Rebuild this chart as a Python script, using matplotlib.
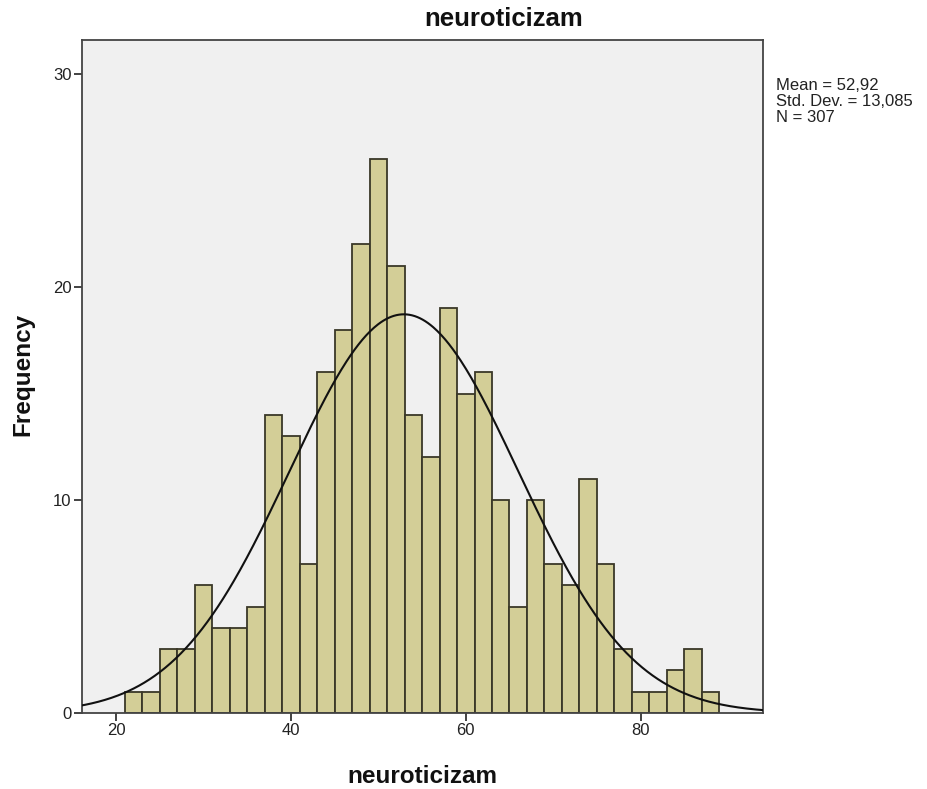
import numpy as np
import matplotlib
matplotlib.use("Agg")
import matplotlib.pyplot as plt

plt.rcParams['font.family'] = ['Liberation Sans', 'DejaVu Sans']

# Histogram data: bin edges (width 2) and counts
bin_edges = list(range(21, 91, 2))
counts = [1, 1, 3, 3, 6, 4, 4, 5, 14, 13, 7, 16, 18, 22, 26, 21,
          14, 12, 19, 15, 16, 10, 5, 10, 7, 6, 11, 7, 3, 1, 1, 2, 3, 1]
mean = 52.92
std = 13.085
n = 307
x_ticks = [20, 40, 60, 80]
y_ticks = [0, 10, 20, 30]
stats_lines = ['Mean = 52,92', 'Std. Dev. = 13,085', 'N = 307']

W, H = 927, 789
fig = plt.figure(figsize=(W / 100, H / 100), dpi=100)
ax = fig.add_axes([82 / W, 1 - 713 / H, (763 - 82) / W, (713 - 40) / H])
ax.set_facecolor('#F0F0F0')

left_edges = np.array(bin_edges[:-1])
widths = np.diff(bin_edges)
ax.bar(left_edges, counts, width=widths, align='edge', color='#D3CE97',
       edgecolor='#3A3828', linewidth=1.3, zorder=2)

xs = np.linspace(10, 100, 600)
binw = widths[0]
ys = n * binw / (std * np.sqrt(2 * np.pi)) * np.exp(-0.5 * ((xs - mean) / std) ** 2)
ax.plot(xs, ys, color='#111111', linewidth=1.5, zorder=3)

ax.set_xlim(16.1, 94.0)
ax.set_ylim(0, 31.6)
ax.set_xticks(x_ticks)
ax.set_yticks(y_ticks)
ax.tick_params(axis='both', direction='out', length=6, width=1.2, color='#222222',
               labelsize=12, labelcolor='#222222', pad=1.5)
for s in ax.spines.values():
    s.set_color('#444444')
    s.set_linewidth(1.3)

fig.text(422 / W, 1 - 783 / H, 'neuroticizam', ha='center', va='baseline',
         fontsize=17.5, fontweight='bold', color='#111111')
fig.text(23 / W, 1 - 374 / H, 'Frequency', ha='center', va='center', rotation=90,
         fontsize=17.5, fontweight='bold', color='#111111')
fig.text(504 / W, 1 - 26 / H, 'neuroticizam', ha='center', va='baseline',
         fontsize=18.5, fontweight='bold', color='#111111')
for i, line in enumerate(stats_lines):
    fig.text(776 / W, 1 - (90 + 16 * i) / H, line, ha='left', va='baseline',
             fontsize=12, color='#222222')

fig.savefig('out.png', dpi=100, facecolor='white')
